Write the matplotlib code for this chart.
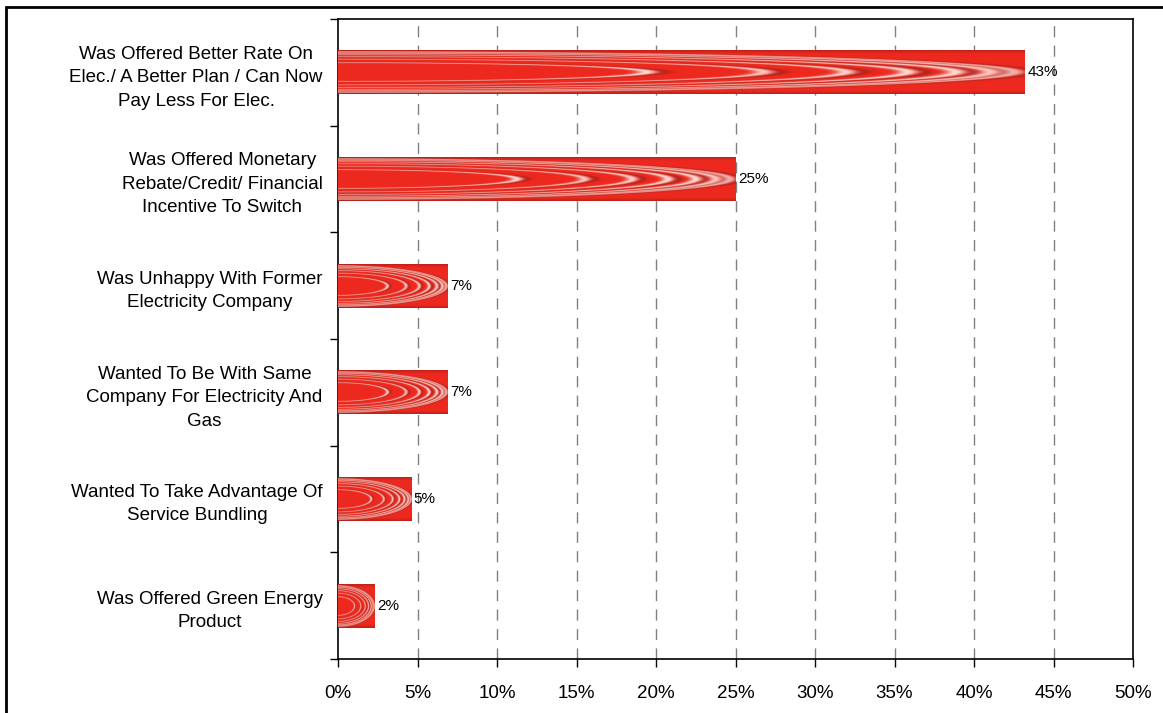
import numpy as np
import matplotlib
matplotlib.use("Agg")
import matplotlib.pyplot as plt
from matplotlib.patches import Rectangle
from matplotlib.transforms import ScaledTranslation

plt.rcParams['font.family'] = ['Liberation Sans', 'DejaVu Sans']

reasons = [
    "Was Offered Better Rate On\nElec./ A Better Plan / Can Now\nPay Less For Elec.",
    "Was Offered Monetary\nRebate/Credit/ Financial\nIncentive To Switch",
    "Was Unhappy With Former\nElectricity Company",
    "Wanted To Be With Same\nCompany For Electricity And\nGas",
    "Wanted To Take Advantage Of\nService Bundling",
    "Was Offered Green Energy\nProduct",
]
shares = [43.2, 25.0, 6.9, 6.9, 4.6, 2.3]
x_ticks = [0, 5, 10, 15, 20, 25, 30, 35, 40, 45, 50]


def ring_texture(h=300, w=1000):
    # red fill with concentric white ellipses, like the office "fill effect" pictures
    u = np.linspace(0, 1, w)[None, :]
    v = np.linspace(-1, 1, h)[:, None]
    d = np.sqrt(u ** 2 + (v / 0.95) ** 2)
    base = np.array([0.93, 0.16, 0.12])
    img = np.ones((h, w, 3)) * base
    # darker top/bottom edges
    edge = np.clip((np.abs(v) - 0.85) / 0.15, 0, 1) * np.ones_like(u)
    img = img * (1 - 0.2 * edge[..., None])
    white = np.zeros((h, w))
    shade = np.zeros((h, w))
    for r, s in [(0.45, 0.9), (0.62, 0.8), (0.74, 0.85), (0.83, 0.9),
                 (0.9, 0.9), (0.95, 0.8), (0.985, 0.7)]:
        white += s * np.exp(-((d - r) / 0.015) ** 2)
        shade += np.exp(-((d - r - 0.025) / 0.012) ** 2)
    white = np.clip(white, 0, 1)[..., None]
    shade = np.clip(shade, 0, 1)[..., None]
    img = img * (1 - 0.25 * shade)
    img = img * (1 - white) + np.array([1.0, 0.93, 0.9]) * white
    return np.clip(img, 0, 1)


fig = plt.figure(figsize=(11.63, 7.13), dpi=100)
ax = fig.add_axes([338 / 1163, 1 - 659 / 713, 795 / 1163, 640 / 713])

tex = ring_texture()
bar_h = 0.41
for i, val in enumerate(shares):
    ax.imshow(tex, extent=(0, val, i + bar_h / 2, i - bar_h / 2),
              aspect='auto', interpolation='antialiased',
              interpolation_stage='rgba', zorder=3)
    ax.text(val + 0.15, i, f"{val:.0f}%", va='center', ha='left',
            fontsize=11, zorder=4)

ax.set_xlim(0, 50)
ax.set_ylim(len(reasons) - 0.5, -0.5)
ax.set_aspect('auto')

ax.set_xticks(x_ticks)
ax.set_xticklabels([f"{t}%" for t in x_ticks], fontsize=13.5)
ax.tick_params(axis='x', direction='out', length=6, width=1, pad=13)

ax.set_yticks(range(len(reasons)))
ax.set_yticklabels(reasons, fontsize=13.5)
nudge = ScaledTranslation(0, 4 / 100, fig.dpi_scale_trans)
for lbl in ax.get_yticklabels():
    lbl.set_multialignment('center')
    lbl.set_linespacing(1.5)
    lbl.set_transform(lbl.get_transform() + nudge)
ax.tick_params(axis='y', which='major', length=0, pad=11)
ax.set_yticks(np.arange(-0.5, len(reasons), 1.0), minor=True)
ax.tick_params(axis='y', which='minor', direction='out', length=6, width=1)

for t in x_ticks[1:-1]:
    ax.axvline(t, color='#808080', lw=1, ls=(0, (8, 6)), zorder=1)

for sp in ax.spines.values():
    sp.set_linewidth(1.2)
    sp.set_color('black')

# outer border of the chart area
fig.patches.append(Rectangle((6 / 1163, -0.05), 1.05, 1 - 7 / 713 + 0.05,
                             transform=fig.transFigure, fill=False,
                             edgecolor='black', lw=2))

fig.savefig("out.png", dpi=100)
